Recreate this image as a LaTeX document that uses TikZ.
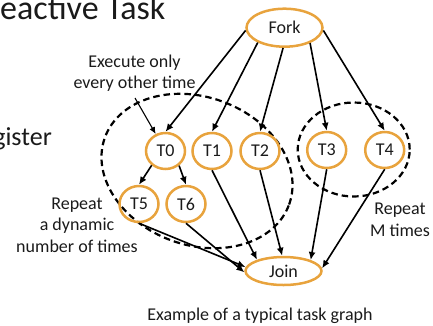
\documentclass[tikz,border=0pt]{standalone}
\usepackage{fontspec}
\setmainfont{Carlito}
\usetikzlibrary{shapes.geometric,arrows.meta}
\definecolor{taskorange}{HTML}{E8A33D}
\definecolor{ink}{HTML}{1A1A1A}
\begin{document}
\begin{tikzpicture}[x=1pt,y=-1pt,
  task/.style={ellipse,draw=taskorange,line width=2.5pt,minimum width=39pt,
    minimum height=36pt,inner sep=0pt,text=ink,font=\fontsize{18}{20}\selectfont},
  endpoint/.style={task,minimum width=76pt,minimum height=38pt},
  edge/.style={line width=1.6pt,-{Latex[length=8pt,width=7pt]}},
  group/.style={draw,line width=2.2pt,dash pattern=on 6.5pt off 4pt},
  note/.style={font=\fontsize{18}{21.5}\selectfont,text=ink,align=center,inner sep=0pt}]
\useasboundingbox (0,0) rectangle (433,325);

% slide text running off the left edge
\node[anchor=base west,inner sep=0pt,text=ink,font=\fontsize{34}{38}\selectfont] (title) at (0,19.5) {eactive Task};
\node[anchor=base east,inner sep=0pt,text=ink,font=\fontsize{26}{30}\selectfont] (side) at (52,145.5) {gister};

% dashed groups
\draw[group,rotate around={-20:(197,171)}] (197,171) ellipse [x radius=98pt,y radius=74pt];
\draw[group] (353.7,149.5) ellipse [x radius=56pt,y radius=47pt];

% tasks
\node[endpoint] (fork) at (284.5,27.7) {Fork};
\node[endpoint,minimum height=28pt] (join) at (283.5,271) {Join};
\node[task] (t0) at (165.5,151) {T0};
\node[task] (t1) at (212,151) {T1};
\node[task] (t2) at (260,151) {T2};
\node[task] (t3) at (326.7,150) {T3};
\node[task] (t4) at (384.7,150) {T4};
\node[task] (t5) at (139,204) {T5};
\node[task] (t6) at (186,204) {T6};

% edges
\draw[edge] (fork.184) -- (t0.north);
\draw[edge] (fork.209) -- (t1.north);
\draw[edge] (fork.266) -- (t2.north);
\draw[edge] (fork.329) -- (t3.north);
\draw[edge] (fork.356) -- (t4.north);
\draw[edge] (t0.226) -- (t5.north);
\draw[edge] (t0.313) -- (t6.north);
\draw[edge] (t1.south) -- (join.157);
\draw[edge] (t2.south) -- (join.95);
\draw[edge] (t3.south) -- (join.22);
\draw[edge] (t4.south) -- (join.4);
\draw[edge] (t5.south) -- (join.174);
\draw[edge] (t6.south) -- (join.182);

% annotations
\node[note] (exec) at (134.5,73) {Execute only\\every other time};
\coordinate (execfoot) at (135,98);
\draw[line width=1.1pt,-{Latex[length=7pt,width=6pt]}] (execfoot) -- (t0);
\node[note] (dyn) at (77,225) {Repeat\\a dynamic\\number of times};
\node[note] (mtimes) at (400,220) {Repeat\\M times};
\node[note,anchor=base] (caption) at (260,320) {Example of a typical task graph};
\end{tikzpicture}
\end{document}
